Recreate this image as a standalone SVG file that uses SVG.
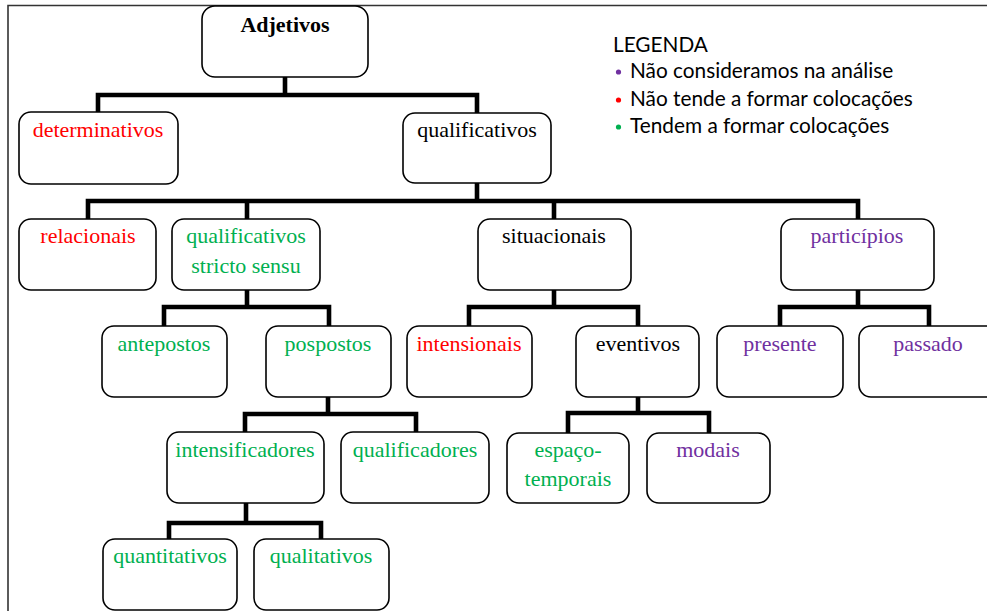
<svg xmlns="http://www.w3.org/2000/svg" width="987" height="611" viewBox="0 0 987 611">
<style>
.box{fill:#fff;stroke:#000;stroke-width:1.6}
.t{font-family:"Liberation Serif","Times New Roman",serif;font-size:22px;text-anchor:middle}
.b{font-weight:bold}
.k{fill:#000}.r{fill:#FF0000}.g{fill:#00B050}.p{fill:#7030A0}
.con{fill:none;stroke:#000;stroke-width:4.6;stroke-linejoin:miter;stroke-linecap:butt}
.leg{font-family:Lato,"Liberation Sans",sans-serif;font-size:20.8px;fill:#000}
.frame{fill:none;stroke:#333;stroke-width:1.6}
</style>
<rect width="987" height="611" fill="#fff"/>
<path class="frame" d="M8,611 V5.5 H987"/>
<g id="connectors">
<path class="con" d="M285,77 V95"/>
<path class="con" d="M98,112 V95 H477 V113"/>
<path class="con" d="M477,183 V201"/>
<path class="con" d="M88,219 V201 H858 V219"/>
<path class="con" d="M247,201 V219"/>
<path class="con" d="M554,201 V219"/>
<path class="con" d="M247,290 V307"/>
<path class="con" d="M164,326 V307 H329 V326"/>
<path class="con" d="M554,290 V307"/>
<path class="con" d="M469,326 V307 H638 V326"/>
<path class="con" d="M858,290 V307"/>
<path class="con" d="M780,326 V307 H929 V326"/>
<path class="con" d="M328,397 V414"/>
<path class="con" d="M245,432 V414 H416 V432"/>
<path class="con" d="M638,397 V413"/>
<path class="con" d="M568,433 V413 H709 V433"/>
<path class="con" d="M246,503 V523"/>
<path class="con" d="M169,539 V523 H321 V539"/>
</g>
<g id="adjetivos"><rect class="box" x="202" y="6" width="166" height="71" rx="13"/><text class="t b k" x="285" y="32">Adjetivos</text></g>
<g id="determinativos"><rect class="box" x="19" y="112" width="159" height="72" rx="12"/><text class="t r" x="98" y="137">determinativos</text></g>
<g id="qualificativos"><rect class="box" x="403" y="113" width="148" height="70" rx="12"/><text class="t k" x="477" y="137">qualificativos</text></g>
<g id="relacionais"><rect class="box" x="19" y="219" width="137" height="71" rx="12"/><text class="t r" x="88" y="243">relacionais</text></g>
<g id="qss"><rect class="box" x="172" y="219" width="148" height="71" rx="12"/><text class="t g" x="246" y="243">qualificativos</text><text class="t g" x="246" y="273">stricto sensu</text></g>
<g id="situacionais"><rect class="box" x="478" y="219" width="153" height="71" rx="12"/><text class="t k" x="554" y="243">situacionais</text></g>
<g id="participios"><rect class="box" x="781" y="219" width="153" height="71" rx="12"/><text class="t p" x="857" y="243">particípios</text></g>
<g id="antepostos"><rect class="box" x="102" y="326" width="125" height="71" rx="12"/><text class="t g" x="164" y="351">antepostos</text></g>
<g id="pospostos"><rect class="box" x="266" y="326" width="125" height="71" rx="12"/><text class="t g" x="328" y="351">pospostos</text></g>
<g id="intensionais"><rect class="box" x="407" y="326" width="125" height="71" rx="12"/><text class="t r" x="469" y="351">intensionais</text></g>
<g id="eventivos"><rect class="box" x="576" y="326" width="123" height="71" rx="12"/><text class="t k" x="638" y="351">eventivos</text></g>
<g id="presente"><rect class="box" x="717" y="326" width="126" height="71" rx="12"/><text class="t p" x="780" y="351">presente</text></g>
<g id="passado"><rect class="box" x="859" y="326" width="140" height="71" rx="12"/><text class="t p" x="928" y="351">passado</text></g>
<g id="intensificadores"><rect class="box" x="167" y="432" width="157" height="71" rx="12"/><text class="t g" x="245" y="457">intensificadores</text></g>
<g id="qualificadores"><rect class="box" x="341" y="432" width="148" height="71" rx="12"/><text class="t g" x="415" y="457">qualificadores</text></g>
<g id="espaco-temporais"><rect class="box" x="507" y="433" width="122" height="70" rx="12"/><text class="t g" x="568" y="457">espaço-</text><text class="t g" x="568" y="486">temporais</text></g>
<g id="modais"><rect class="box" x="647" y="433" width="123" height="70" rx="12"/><text class="t p" x="708" y="457">modais</text></g>
<g id="quantitativos"><rect class="box" x="103" y="539" width="134" height="71" rx="12"/><text class="t g" x="170" y="563">quantitativos</text></g>
<g id="qualitativos"><rect class="box" x="254" y="539" width="135" height="71" rx="12"/><text class="t g" x="321" y="563">qualitativos</text></g>
<g id="legenda">
<text class="leg" x="613" y="52">LEGENDA</text>
<circle cx="618.5" cy="72" r="2.6" fill="#7030A0"/>
<text class="leg" x="630" y="78">Não consideramos na análise</text>
<circle cx="618.5" cy="100" r="2.6" fill="#FF0000"/>
<text class="leg" x="630" y="106">Não tende a formar colocações</text>
<circle cx="618.5" cy="127" r="2.6" fill="#00B050"/>
<text class="leg" x="630" y="133">Tendem a formar colocações</text>
</g>
</svg>
